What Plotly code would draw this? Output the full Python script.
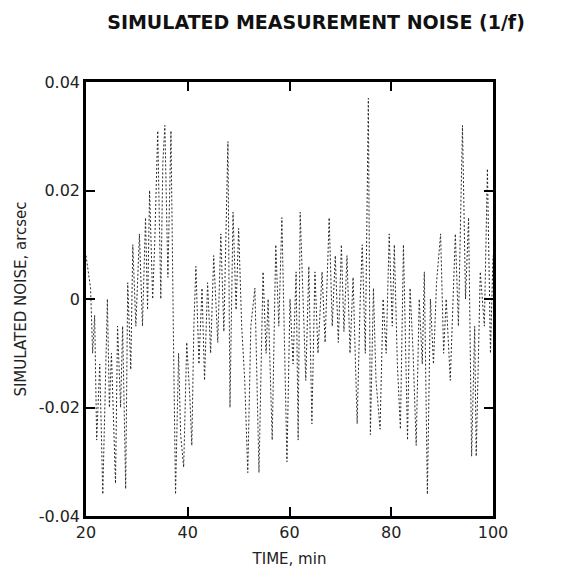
import plotly.graph_objects as go

# time in minutes
time_min = [20.0, 20.9, 21.3, 21.7, 22.1, 22.7, 23.3, 23.8, 24.2, 24.6, 25.0, 25.8, 26.2, 26.8, 27.2,
            27.8, 28.2, 28.8, 29.2, 29.8, 30.5, 31.1, 31.7, 32.1, 32.5, 33.1, 33.5, 34.1, 34.7, 35.1,
            35.5, 36.1, 36.7, 37.2, 37.6, 38.2, 38.6, 39.2, 39.8, 40.4, 40.8, 41.2, 41.6, 42.2, 42.8,
            43.3, 43.9, 44.5, 45.1, 45.9, 46.5, 47.1, 47.9, 48.3, 48.9, 49.5, 50.0, 50.6, 51.2, 51.8,
            52.4, 53.2, 54.0, 54.8, 55.4, 55.8, 56.6, 57.3, 57.9, 58.5, 59.1, 59.5, 60.1, 60.7, 61.3,
            61.7, 62.1, 62.7, 63.2, 63.8, 64.4, 65.0, 65.6, 66.4, 67.0, 67.8, 68.4, 69.0, 69.6, 70.2,
            70.7, 71.3, 71.9, 72.5, 73.3, 73.9, 74.3, 74.9, 75.5, 75.9, 76.5, 77.0, 77.8, 78.4, 79.0,
            79.6, 80.2, 80.6, 81.2, 81.8, 82.4, 83.2, 83.7, 84.3, 84.9, 85.5, 86.1, 86.5, 87.1, 87.7,
            88.3, 88.9, 89.7, 90.3, 90.8, 91.6, 92.2, 92.6, 93.2, 94.0, 94.6, 95.2, 95.8, 96.4, 96.7,
            97.5, 98.3, 98.9, 99.5, 100.0]

# simulated noise in arcsec
noise_arcsec = [0.008, 0.002, -0.010, -0.003, -0.026, -0.012, -0.036, -0.015, 0.000, -0.020, -0.010, -0.034, -0.005, -0.020, -0.005,
                -0.035, 0.003, -0.013, 0.010, -0.005, 0.012, -0.005, 0.015, -0.002, 0.020, 0.000, 0.010, 0.031, 0.000, 0.025,
                0.032, 0.004, 0.031, -0.008, -0.036, -0.010, -0.025, -0.031, -0.008, -0.018, -0.027, -0.005, 0.006, -0.012, 0.002,
                -0.015, 0.003, -0.010, 0.008, -0.008, 0.012, -0.006, 0.029, -0.020, 0.016, -0.002, 0.013, -0.005, -0.015, -0.032,
                -0.005, 0.002, -0.032, 0.005, -0.010, 0.000, -0.026, 0.010, -0.005, 0.015, -0.010, -0.030, 0.000, -0.012, 0.005,
                -0.026, 0.016, 0.000, -0.015, 0.006, -0.023, 0.005, -0.010, 0.005, -0.008, 0.015, -0.005, 0.008, -0.008, 0.010,
                -0.006, 0.008, -0.010, 0.004, -0.023, 0.000, 0.010, -0.010, 0.037, -0.025, 0.002, -0.015, -0.024, 0.000, -0.010,
                0.012, -0.005, 0.010, -0.012, -0.024, 0.010, -0.026, 0.002, -0.010, -0.027, 0.000, -0.012, 0.005, -0.036, 0.000,
                -0.012, 0.003, 0.012, -0.010, 0.000, -0.015, 0.002, 0.012, -0.005, 0.032, 0.000, 0.015, -0.029, -0.005, -0.029,
                0.005, -0.005, 0.024, -0.010, 0.008]

x_ticks = [20, 40, 60, 80, 100]
x_tick_labels = ["20", "40", "60", "80", "100"]
y_ticks = [-0.04, -0.02, 0, 0.02, 0.04]
y_tick_labels = ["-0.04", "-0.02", "0", "0.02", "0.04"]

FONT = "DejaVu Sans, Verdana, sans-serif"

fig = go.Figure()
fig.add_trace(go.Scatter(
    x=time_min, y=noise_arcsec, mode="lines",
    line=dict(color="#2a2a2a", width=1, dash="2px,2px"),
    showlegend=False, hoverinfo="skip",
))

# page has an 8px body margin, so the figure is 554x560 placed at (8, 8)
fig.update_layout(
    width=554, height=560,
    margin=dict(l=78, r=69, t=74, b=52, autoexpand=False),
    paper_bgcolor="white", plot_bgcolor="white",
    font=dict(family=FONT, color="#111111", size=15),
    title=dict(
        text="<b>SIMULATED MEASUREMENT NOISE (1/f)</b>",
        x=0.556, xanchor="center", y=0.975, yanchor="middle",
        font=dict(family=FONT, size=19, color="#111111"),
    ),
)

fig.update_xaxes(
    range=[20, 100], tickvals=x_ticks, ticktext=x_tick_labels,
    showgrid=False, zeroline=False, automargin=False,
    showline=True, linecolor="black", linewidth=2.5, mirror="ticks",
    ticks="inside", ticklen=9, tickwidth=1.5, tickcolor="black",
    tickfont=dict(size=16, color="#222222"),
    title=dict(text="TIME, min", font=dict(size=15, color="#222222"), standoff=13),
)
fig.update_yaxes(
    range=[-0.04, 0.04], tickvals=y_ticks, ticktext=y_tick_labels,
    showgrid=False, zeroline=False, automargin=False,
    showline=True, linecolor="black", linewidth=2.5, mirror="ticks",
    ticks="inside", ticklen=9, tickwidth=1.5, tickcolor="black",
    tickfont=dict(size=16, color="#222222"),
    title=dict(text="SIMULATED NOISE, arcsec", font=dict(size=15, color="#222222"), standoff=9),
)

fig.write_html("out.html")
